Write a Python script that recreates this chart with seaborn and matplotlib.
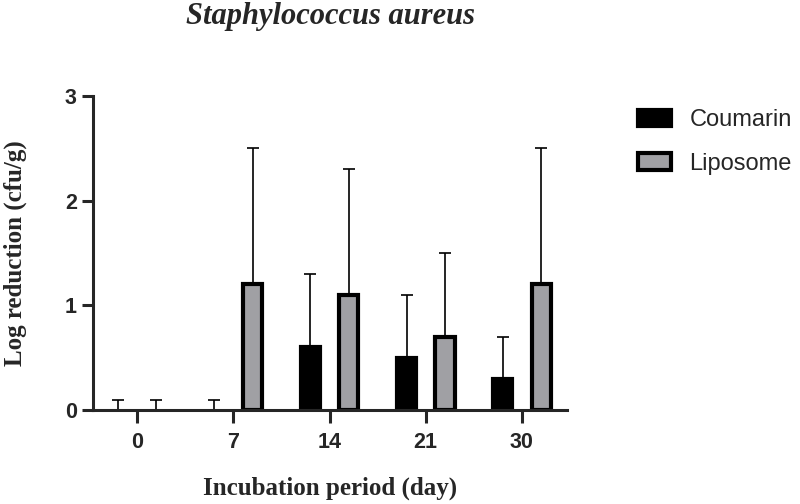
import numpy as np
import pandas as pd
import matplotlib
matplotlib.use('Agg')
import matplotlib.pyplot as plt
import seaborn as sns

# data
days = ['0', '7', '14', '21', '30']
coumarin = [0.0, 0.0, 0.6, 0.5, 0.3]
coumarin_err = [0.1, 0.1, 0.7, 0.6, 0.4]
liposome = [0.0, 1.2, 1.1, 0.7, 1.2]
liposome_err = [0.1, 1.3, 1.2, 0.8, 1.3]
groups = ['Coumarin', 'Liposome']
colors = {'Coumarin': 'black', 'Liposome': '#a0a0a4'}

df = pd.DataFrame({
    'day': days * 2,
    'value': coumarin + liposome,
    'group': ['Coumarin'] * len(days) + ['Liposome'] * len(days),
})
errs = {'Coumarin': coumarin_err, 'Liposome': liposome_err}

sns.set_style('ticks')
fig = plt.figure(figsize=(8, 5.04), dpi=100)
ax = fig.add_axes([0.116, 0.1865, 0.593, 0.623])

sns.barplot(data=df, x='day', y='value', hue='group', order=days, hue_order=groups,
            palette=colors, edgecolor='black', linewidth=3, gap=0.5, ax=ax)

# upper-only error bars on top of each bar
for cont, g in zip(ax.containers, groups):
    xs = [b.get_x() + b.get_width() / 2 for b in cont]
    ys = [b.get_height() for b in cont]
    for b in cont:
        if b.get_height() == 0:
            b.set_linewidth(0)
    ax.errorbar(xs, ys, yerr=[np.zeros(len(xs)), errs[g]], fmt='none', ecolor='black',
                elinewidth=1.2, capsize=4, capthick=1.2, zorder=1)

ax.set_ylim(0, 3)
ax.set_xlim(-0.46, 4.47)
ax.set_yticks([0, 1, 2, 3])
sns.despine(ax=ax)
for s in ['left', 'bottom']:
    ax.spines[s].set_linewidth(2.2)
ax.tick_params(axis='both', width=2.2, length=8, labelsize=15.5)
ax.tick_params(axis='x', length=9, pad=7)
for lab in ax.get_xticklabels() + ax.get_yticklabels():
    lab.set_fontfamily('Liberation Sans')
    lab.set_fontweight('bold')

serif = {'family': 'Liberation Serif', 'weight': 'bold', 'size': 18}
ax.set_xlabel('Incubation period (day)', fontdict=serif, labelpad=17)
ax.set_ylabel('Log reduction (cfu/g)', fontdict=serif, labelpad=27)
ax.set_title('Staphylococcus aureus', family='Liberation Serif', weight='bold',
             style='italic', size=22, pad=52)

handles, labels = ax.get_legend_handles_labels()
ax.legend(handles, labels, loc='upper left', bbox_to_anchor=(0.797, 0.783),
          bbox_transform=fig.transFigure, frameon=False, borderpad=0, borderaxespad=0,
          handlelength=1.4, handleheight=0.7, handletextpad=0.8, labelspacing=0.9,
          prop={'family': 'Liberation Sans', 'size': 17})

fig.savefig('out.png', dpi=100)
